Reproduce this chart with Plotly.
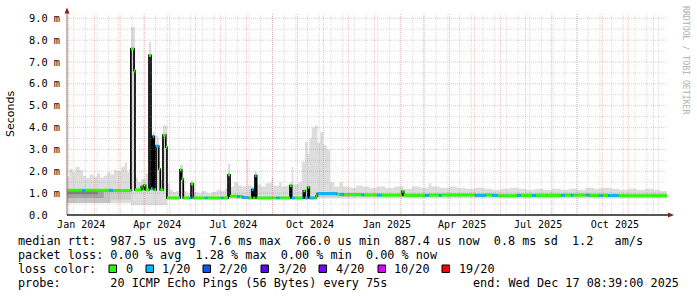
import plotly.graph_objects as go
import pandas as pd

# ---------------- data ----------------
START = "2023-12-30 00:00"
END = "2025-12-17 08:39"

# median rtt (ms) segments: start time, value, lost pings (of 20)
med_t = [
    "2023-12-30 00:00", "2024-01-17", "2024-01-20", "2024-02-19", "2024-02-23",
    "2024-03-15 12:00", "2024-03-19 06:00", "2024-03-20 10:00", "2024-03-28", "2024-03-29 12:00",
    "2024-03-31", "2024-04-02", "2024-04-06 05:00", "2024-04-08 14:00", "2024-04-10 14:00",
    "2024-04-12 12:00", "2024-04-14 14:00", "2024-04-17 19:00", "2024-04-19 17:00", "2024-04-22 22:00",
    "2024-04-26 05:00", "2024-04-27 17:00", "2024-05-13 07:00", "2024-05-15 07:00", "2024-05-17 05:00",
    "2024-05-25", "2024-05-26 12:00", "2024-05-29 05:00", "2024-06-13", "2024-06-15",
    "2024-07-02", "2024-07-04", "2024-07-09 19:00", "2024-07-12 05:00", "2024-07-21",
    "2024-07-24", "2024-07-27", "2024-08-03", "2024-08-07 05:00", "2024-08-09 02:00",
    "2024-08-11 02:00", "2024-08-13 02:00", "2024-09-06", "2024-09-10", "2024-09-22",
    "2024-09-24", "2024-09-28", "2024-10-07", "2024-10-08", "2024-10-10",
    "2024-10-13 05:00", "2024-10-15 02:00", "2024-10-21", "2024-10-23", "2024-10-24 17:00",
    "2024-11-17", "2024-11-21", "2024-11-25", "2024-12-17", "2024-12-19",
    "2025-01-05", "2025-01-10", "2025-02-03", "2025-02-05", "2025-03-03",
    "2025-03-07", "2025-03-20", "2025-03-22", "2025-05-02", "2025-05-14",
    "2025-05-22", "2025-05-28", "2025-06-21", "2025-06-25", "2025-07-09",
    "2025-07-13", "2025-08-13", "2025-08-17", "2025-08-25", "2025-08-27",
    "2025-09-12", "2025-09-16", "2025-09-27", "2025-10-01", "2025-10-08",
    "2025-10-20",
]
med_v = [
    1.13, 1.13, 1.13, 1.13, 1.12,
    7.6, 6.6, 1.15, 1.3, 1.18,
    1.36, 1.15, 7.3, 1.2, 3.6,
    1.15, 3.15, 2.1, 1.15, 3.65,
    3.1, 0.78, 2.07, 1.64, 0.78,
    0.78, 1.42, 0.78, 0.78, 0.78,
    0.78, 0.78, 1.84, 0.86, 0.84,
    0.85, 0.80, 0.78, 1.16, 0.78,
    1.8, 0.78, 0.78, 0.78, 1.34,
    0.78, 0.78, 0.78, 1.11, 0.78,
    1.27, 0.78, 0.78, 0.86, 0.98,
    0.95, 0.94, 0.93, 0.92, 0.92,
    0.91, 0.91, 1.08, 0.90, 0.90,
    0.91, 0.90, 0.92, 0.90, 0.92,
    0.90, 0.88, 0.90, 0.90, 0.89,
    0.90, 0.90, 0.91, 0.90, 0.91,
    0.91, 0.90, 0.89, 0.90, 0.89,
    0.88,
]
med_loss = [
    0, 1, 0, 1, 0,
    0, 0, 0, 0, 0,
    0, 0, 0, 1, 1,
    0, 1, 0, 0, 0,
    0, 0, 0, 0, 0,
    1, 0, 0, 1, 0,
    1, 0, 0, 0, 1,
    0, 1, 0, 1, 0,
    1, 0, 1, 0, 0,
    1, 0, 1, 0, 1,
    0, 1, 0, 0, 1,
    0, 1, 0, 1, 0,
    1, 0, 0, 0, 1,
    0, 1, 0, 1, 0,
    1, 0, 1, 0, 1,
    0, 1, 0, 1, 0,
    1, 0, 1, 0, 1,
    0,
]

# smoke (max ping) envelope, ms
smoke_t = [
    "2023-12-30", "2024-01-02", "2024-01-06", "2024-01-09", "2024-01-14", "2024-01-18",
    "2024-01-22", "2024-01-26", "2024-01-31", "2024-02-04", "2024-02-08", "2024-02-12",
    "2024-02-16", "2024-02-20", "2024-02-24", "2024-02-28", "2024-03-04", "2024-03-08",
    "2024-03-11", "2024-03-13", "2024-03-15 12:00", "2024-03-20 10:00", "2024-03-24", "2024-03-28",
    "2024-04-02", "2024-04-06 05:00", "2024-04-08 14:00", "2024-04-10 14:00", "2024-04-12 12:00", "2024-04-14 14:00",
    "2024-04-17 19:00", "2024-04-19 17:00", "2024-04-22 22:00", "2024-04-27 17:00", "2024-05-01", "2024-05-05",
    "2024-05-09", "2024-05-13 07:00", "2024-05-17 05:00", "2024-05-21", "2024-05-26 12:00", "2024-05-29 05:00",
    "2024-06-03", "2024-06-08", "2024-06-14", "2024-06-20", "2024-06-26", "2024-07-02",
    "2024-07-06", "2024-07-09 19:00", "2024-07-12 05:00", "2024-07-17", "2024-07-22", "2024-07-27",
    "2024-08-01", "2024-08-02 12:00", "2024-08-07 05:00", "2024-08-11 02:00", "2024-08-13 02:00", "2024-08-18",
    "2024-08-24", "2024-08-31", "2024-09-02", "2024-09-09", "2024-09-12", "2024-09-17",
    "2024-09-22", "2024-09-24", "2024-09-26", "2024-10-02", "2024-10-06", "2024-10-10",
    "2024-10-13", "2024-10-15", "2024-10-18", "2024-10-22", "2024-10-25", "2024-10-28",
    "2024-11-01", "2024-11-05", "2024-11-09", "2024-11-14", "2024-11-20", "2024-11-24",
    "2024-12-02", "2024-12-10", "2024-12-18", "2024-12-26", "2025-01-04", "2025-01-14",
    "2025-01-25", "2025-02-05", "2025-02-15", "2025-02-25", "2025-03-07", "2025-03-10",
    "2025-03-20", "2025-04-01", "2025-04-10", "2025-04-20", "2025-05-01", "2025-05-12",
    "2025-05-22", "2025-06-02", "2025-06-12", "2025-06-22", "2025-07-02", "2025-07-12",
    "2025-07-22", "2025-08-02", "2025-08-12", "2025-08-22", "2025-09-01", "2025-09-11",
    "2025-09-21", "2025-10-01", "2025-10-11", "2025-10-21", "2025-11-01", "2025-11-11",
    "2025-11-21", "2025-12-01", "2025-12-10",
]
smoke_hi = [
    1.75, 2.10, 1.95, 2.20, 2.05, 1.80,
    1.70, 1.85, 1.75, 1.90, 1.70, 1.80,
    1.95, 1.85, 2.05, 2.00, 2.20, 2.40,
    1.95, 2.10, 8.60, 1.70, 1.50, 1.65,
    1.90, 7.90, 1.60, 3.80, 1.50, 3.60,
    2.40, 1.60, 4.10, 1.45, 1.15, 1.05,
    1.10, 2.30, 1.10, 1.00, 1.55, 1.05,
    1.00, 1.10, 1.00, 1.05, 1.15, 1.10,
    1.20, 2.35, 1.30, 1.50, 1.35, 1.30,
    2.50, 1.35, 1.30, 2.00, 1.40, 1.30,
    1.45, 1.70, 1.35, 1.50, 1.30, 1.35,
    1.50, 2.20, 1.40, 1.50, 2.45, 3.35,
    2.80, 3.50, 4.00, 4.10, 3.30, 3.80,
    3.20, 3.00, 1.50, 1.30, 1.50, 1.30,
    1.25, 1.35, 1.30, 1.25, 1.30, 1.25,
    1.30, 1.20, 1.30, 1.25, 1.45, 1.30,
    1.25, 1.30, 1.25, 1.20, 1.25, 1.20,
    1.15, 1.20, 1.25, 1.20, 1.15, 1.20,
    1.15, 1.20, 1.15, 1.20, 1.15, 1.25,
    1.20, 1.25, 1.20, 1.15, 1.20, 1.15,
    1.20, 1.15, 1.10,
]
lo_t = ["2023-12-30", "2024-03-15 12:00", "2024-04-27 17:00", "2024-10-24 17:00"]
lo_v = [0.55, 0.45, 0.72, 0.76]

# denser smoke cores around the median
core_t0 = ["2023-12-30", "2023-12-30", "2023-12-30", "2024-02-20", "2024-10-24 17:00"]
core_t1 = ["2024-02-20", "2024-02-12", "2024-02-05", "2024-03-15 12:00", END]
core_lo = [0.55, 0.78, 0.95, 0.70, 0.82]
core_hi = [1.10, 1.10, 1.10, 1.10, 0.98]
core_col = ["#c4c4c4", "#a4a4a4", "#808080", "#cdcdcd", "#cccccc"]

loss_labels = ["0", "1/20", "2/20", "3/20", "4/20", "10/20", "19/20"]
loss_colors = ["#26ff00", "#00b8ff", "#0059ff", "#5e00ff", "#7e00ff", "#dd00ff", "#ff0000"]

ytick_vals = [0, 1, 2, 3, 4, 5, 6, 7, 8, 9]
ytick_text = ["0.0\u00a0\u00a0"] + [f"{v}.0 m" for v in ytick_vals[1:]]
xtick_vals = ["2024-01-16", "2024-04-16", "2024-07-16", "2024-10-16",
              "2025-01-16", "2025-04-16", "2025-07-16", "2025-10-16"]
xtick_text = ["Jan 2024", "Apr 2024", "Jul 2024", "Oct 2024",
              "Jan 2025", "Apr 2025", "Jul 2025", "Oct 2025"]

legend_lines = [
    "median rtt:  987.5 us avg  7.6 ms max  766.0 us min  887.4 us now  0.8 ms sd  1.2   am/s",
    "packet loss: 0.00 % avg  1.28 % max  0.00 % min  0.00 % now",
    "loss color:",
    "probe:       20 ICMP Echo Pings (56 Bytes) every 75s",
]
end_text = "end: Wed Dec 17 08:39:00 2025"

# ---------------- figure ----------------
W, H = 697, 297
L, R, T, B = 67, 30, 13, 82
PW, PH = W - L - R, H - T - B
YMAX = 9.24
MONO = "DejaVu Sans Mono"
GRID = "rgba(143,143,143,0.32)"
MGRID = "rgba(222,79,79,0.36)"


def px(x):
    return (x - L) / PW


def py(y):
    return (H - B - y) / PH


def step(t, v):
    return list(t) + [END], list(v) + [v[-1]]


fig = go.Figure()

# smoke envelope
sx, sy = step(smoke_t, smoke_hi)
fig.add_trace(go.Scatter(x=sx, y=sy, mode="lines", line=dict(width=0, shape="hv"),
                         fill="tozeroy", fillcolor="#dddddd", hoverinfo="skip"))
lx, ly = step(lo_t, lo_v)
fig.add_trace(go.Scatter(x=lx, y=ly, mode="lines", line=dict(width=0, shape="hv"),
                         fill="tozeroy", fillcolor="#ffffff", hoverinfo="skip"))
for t0, t1, lo, hi, col in zip(core_t0, core_t1, core_lo, core_hi, core_col):
    fig.add_trace(go.Scatter(x=[t0, t1], y=[lo, lo], mode="lines", line=dict(width=0),
                             hoverinfo="skip"))
    fig.add_trace(go.Scatter(x=[t0, t1], y=[hi, hi], mode="lines", line=dict(width=0),
                             fill="tonexty", fillcolor=col, hoverinfo="skip"))

# median: black step line (shows the jumps)
mx, my = step(med_t, med_v)
fig.add_trace(go.Scatter(x=mx, y=my, mode="lines", line=dict(color="#000000", width=1.7, shape="hv"),
                         hoverinfo="skip"))

# median coloured by loss
ends = med_t[1:] + [END]
for code, col in [(0, loss_colors[0]), (1, loss_colors[1])]:
    xs, ys = [], []
    for t0, t1, v, c in zip(med_t, ends, med_v, med_loss):
        if c == code:
            xs += [t0, t1, None]
            ys += [v, v, None]
    fig.add_trace(go.Scatter(x=xs, y=ys, mode="lines", line=dict(color=col, width=3),
                             connectgaps=False, hoverinfo="skip"))

shapes = []
# vertical grid: minor (biweekly Sundays), major (months)
for d in pd.date_range("2024-01-07", END, freq="14D"):
    shapes.append(dict(type="line", xref="x", yref="paper", x0=d, x1=d, y0=0, y1=1,
                       line=dict(color=GRID, width=1, dash="1px,1px"), layer="above"))
for d in pd.date_range("2024-01-01", END, freq="MS"):
    shapes.append(dict(type="line", xref="x", yref="paper", x0=d, x1=d, y0=0, y1=1,
                       line=dict(color=MGRID, width=1, dash="1px,1px"), layer="above"))
for i in range(1, 19):
    v = i * 0.5
    major = i % 2 == 0
    shapes.append(dict(type="line", xref="paper", yref="y", x0=0, x1=1, y0=v, y1=v,
                       line=dict(color=MGRID if major else GRID, width=1, dash="1px,1px"), layer="above"))
# axes and arrows
shapes.append(dict(type="line", xref="paper", yref="paper", x0=0, x1=0, y0=0, y1=py(11),
                   line=dict(color="#777777", width=1), layer="above"))
shapes.append(dict(type="line", xref="paper", yref="paper", x0=0, x1=px(669), y0=0, y1=0,
                   line=dict(color="#1f1f1f", width=1.5), layer="above"))
shapes.append(dict(type="path", xref="paper", yref="paper",
                   path=f"M {px(64.5)} {py(13.5)} L {px(69.5)} {py(13.5)} L {px(67)} {py(7.5)} Z",
                   fillcolor="#801f1f", line=dict(width=0), layer="above"))
shapes.append(dict(type="path", xref="paper", yref="paper",
                   path=f"M {px(668)} {py(212.5)} L {px(668)} {py(217.5)} L {px(674)} {py(215)} Z",
                   fillcolor="#801f1f", line=dict(width=0), layer="above"))

annotations = []
# legend lines
line_y = [241, 255.2, 269.2, 283.4]
for txt, yy in zip(legend_lines, line_y):
    annotations.append(dict(text=txt.replace(" ", "\u00a0"), xref="paper", yref="paper",
                            x=px(16), y=py(yy), xanchor="left", yanchor="middle", showarrow=False,
                            font=dict(family=MONO, size=11.8, color="#000000")))
annotations.append(dict(text=end_text.replace(" ", "\u00a0"), xref="paper", yref="paper",
                        x=px(681), y=py(283.4), xanchor="right", yanchor="middle", showarrow=False,
                        font=dict(family=MONO, size=11.8, color="#000000")))
# loss colour swatches
sw_x = [109, 146, 203, 261, 319, 378, 442]
lab_x = [124, 160, 217, 276, 334, 392, 457]
for sx0, lx0, lab, col in zip(sw_x, lab_x, loss_labels, loss_colors):
    shapes.append(dict(type="rect", xref="paper", yref="paper",
                       x0=px(sx0), x1=px(sx0 + 7.5), y0=py(272.5), y1=py(265),
                       fillcolor=col, line=dict(color="#000000", width=1), layer="above"))
    annotations.append(dict(text=lab, xref="paper", yref="paper", x=px(lx0), y=py(269.2),
                            xanchor="left", yanchor="middle", showarrow=False,
                            font=dict(family=MONO, size=11.8, color="#000000")))
# axis title and watermark
annotations.append(dict(text="Seconds", xref="paper", yref="paper", x=px(10), y=py(114),
                        xanchor="center", yanchor="middle", textangle=-90, showarrow=False,
                        font=dict(family="DejaVu Sans", size=11, color="#000000")))
annotations.append(dict(text="RRDTOOL / TOBI OETIKER", xref="paper", yref="paper", x=px(686), y=py(60),
                        xanchor="center", yanchor="middle", textangle=90, showarrow=False,
                        font=dict(family=MONO, size=8.2, color="#b0b0b0")))

fig.update_layout(
    width=W, height=H, margin=dict(l=L, r=R, t=T, b=B, pad=0),
    paper_bgcolor="#ffffff", plot_bgcolor="#ffffff", showlegend=False,
    shapes=shapes, annotations=annotations,
    xaxis=dict(type="date", range=[START, END], showgrid=False, zeroline=False, showline=False,
               tickvals=xtick_vals, ticktext=xtick_text, ticks="", ticklabelstandoff=2,
               tickfont=dict(family=MONO, size=10, color="#000000"), fixedrange=True),
    yaxis=dict(range=[0, YMAX], showgrid=False, zeroline=False, showline=False,
               tickvals=ytick_vals, ticktext=ytick_text, ticks="", ticklabelstandoff=6,
               tickfont=dict(family=MONO, size=10.3, color="#000000"), fixedrange=True),
)

fig.write_html("out.html")
